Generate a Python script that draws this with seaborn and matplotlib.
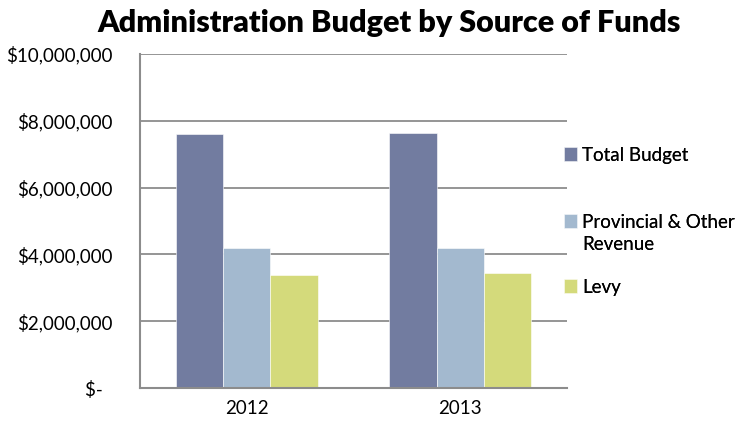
import matplotlib
matplotlib.use("Agg")
import matplotlib.pyplot as plt
import seaborn as sns
import pandas as pd
from matplotlib.patches import Patch
from matplotlib.ticker import FuncFormatter

# Budget figures (dollars)
years = ["2012", "2013"]
sources = ["Total Budget", "Provincial & Other Revenue", "Levy"]
total_budget = [7590000, 7640000]
provincial_other = [4205000, 4205000]
levy = [3380000, 3430000]
colors = ["#727ca0", "#a3b9cf", "#d4da7b"]

rows = []
for src, vals in zip(sources, [total_budget, provincial_other, levy]):
    for yr, v in zip(years, vals):
        rows.append({"Year": yr, "Source": src, "Amount": v})
df = pd.DataFrame(rows)

sns.set_theme(style="white")
plt.rcParams["font.family"] = ["Lato", "DejaVu Sans"]
plt.rcParams["text.color"] = "black"

fig = plt.figure(figsize=(7.46, 4.25), dpi=100)
ax = fig.add_axes([140 / 746, 37 / 425, 427 / 746, 334 / 425])

sns.barplot(data=df, x="Year", y="Amount", hue="Source", hue_order=sources,
            palette=colors, width=0.667, ax=ax, saturation=1,
            edgecolor="white", linewidth=0.4, legend=True)

grid_c = "#8c8c8c"
ax.set_ylim(0, 10000000)
ax.set_xlim(-0.5, 1.5)
ax.set_yticks(range(0, 10000001, 2000000))
ax.yaxis.set_major_formatter(FuncFormatter(
    lambda v, p: "$-  " if v == 0 else f"${v:,.0f}"))
ax.yaxis.grid(True, color=grid_c, linewidth=1.3)
ax.set_axisbelow(True)
for s in ["top", "right"]:
    ax.spines[s].set_visible(False)
for s in ["left", "bottom"]:
    ax.spines[s].set_color(grid_c)
    ax.spines[s].set_linewidth(1.5)
ax.tick_params(axis="both", length=0, labelsize=13.5, colors="black")
ax.tick_params(axis="y", pad=20)
ax.tick_params(axis="x", pad=9)
ax.set_xlabel("")
ax.set_ylabel("")

fig.text(0.521, 0.945, "Administration Budget by Source of Funds",
         ha="center", va="center", fontsize=22, fontweight="heavy")

# Legend: one entry per block so each can sit at its own height;
# the long label wraps onto a second line with a blank marker
handles, labels = ax.get_legend_handles_labels()
ax.get_legend().remove()
blank = Patch(facecolor="none", edgecolor="none")
common = dict(frameon=False, fontsize=13.5, handlelength=0.7, handleheight=0.7,
              handletextpad=0.25, borderaxespad=0, borderpad=0, loc="center left")
entry_y = [155, 222, 245, 287]
entry_handles = [handles[0], handles[1], blank, handles[2]]
shown = ["Total Budget", "Provincial & Other", "Revenue", "Levy"]
for h, lab, y in zip(entry_handles, shown, entry_y):
    leg = fig.legend([h], [lab], bbox_to_anchor=(564 / 746, 1 - y / 425), **common)
    fig.add_artist(leg)

fig.savefig("out.png", dpi=100)
